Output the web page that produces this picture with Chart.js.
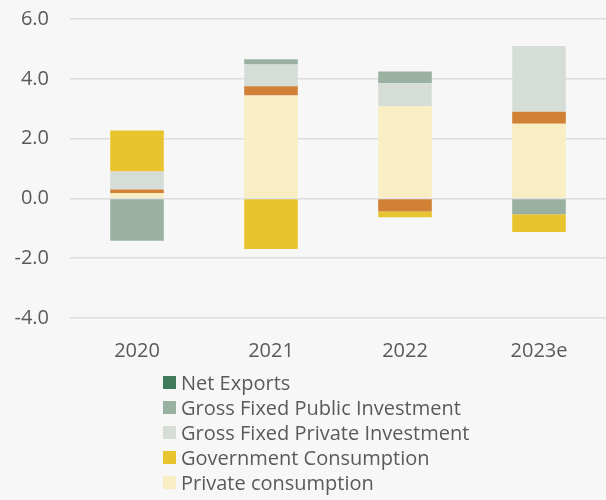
<!DOCTYPE html>
<html>
<head>
<meta charset="utf-8">
<script src="https://cdn.jsdelivr.net/npm/chart.js@4.4.1/dist/chart.umd.min.js"></script>
<style>
  html, body { margin: 0; padding: 0; background: #f7f7f7; }
  #contenedor { position: relative; width: 606px; height: 500px; overflow: hidden; }
  #grafico { position: absolute; left: 0; top: 0; }
  #leyenda { position: absolute; left: 163px; top: 370px; font-family: "Open Sans", sans-serif; font-size: 20px; color: #5a5a5a; }
  .item { height: 25px; display: flex; align-items: center; white-space: nowrap; }
  .caja { width: 13px; height: 13px; margin-right: 5px; flex: none; }
</style>
</head>
<body>
<div id="contenedor">
  <canvas id="grafico" width="606" height="370"></canvas>
  <div id="leyenda"></div>
</div>
<script>
// ===============================
// Datos
// ===============================
const anios = ['2020', '2021', '2022', '2023e'];
const ticksY = [-4, -2, 0, 2, 4, 6];

const consumoPrivado = [0.18, 3.44, 3.08, 2.50];
const inventarios = [0.12, 0.31, -0.44, 0.40];
const inversionPrivada = [0.60, 0.73, 0.77, 2.20];
const inversionPublica = [-1.42, 0.17, 0.39, -0.53];
const consumoGobierno = [1.37, -1.69, -0.19, -0.59];
const exportacionesNetas = [0, 0, 0, 0];

// orden en que aparece la leyenda
const ordenLeyenda = [
  'Net Exports',
  'Gross Fixed Public Investment',
  'Gross Fixed Private Investment',
  'Government Consumption',
  'Private consumption'
];

const colorTexto = '#5a5a5a';
const fuente = '"Open Sans", sans-serif';

// ===============================
// Gráfico de barras apiladas
// ===============================
const ctx = document.getElementById('grafico').getContext('2d');
const grafico = new Chart(ctx, {
  type: 'bar',
  data: {
    labels: anios,
    datasets: [
      { label: 'Private consumption', data: consumoPrivado, backgroundColor: '#f8edc3' },
      { label: 'Change in Inventories', data: inventarios, backgroundColor: '#d08135' },
      { label: 'Gross Fixed Private Investment', data: inversionPrivada, backgroundColor: '#d5ddd6' },
      { label: 'Gross Fixed Public Investment', data: inversionPublica, backgroundColor: '#9ab0a0' },
      { label: 'Government Consumption', data: consumoGobierno, backgroundColor: '#e8c52f' },
      { label: 'Net Exports', data: exportacionesNetas, backgroundColor: '#3f7a5d' }
    ]
  },
  options: {
    responsive: false,
    animation: false,
    devicePixelRatio: 1,
    categoryPercentage: 0.8,
    barPercentage: 0.5,
    layout: { padding: { left: 0, right: 0, top: 19, bottom: 0 } },
    plugins: {
      legend: { display: false },
      tooltip: { enabled: false }
    },
    scales: {
      x: {
        stacked: true,
        grid: { display: false },
        border: { display: false },
        afterFit: function (eje) { eje.height = 52; },
        ticks: { color: colorTexto, font: { family: fuente, size: 20 }, padding: 13 }
      },
      y: {
        stacked: true,
        min: -4,
        max: 6,
        afterBuildTicks: function (eje) {
          eje.ticks = ticksY.map(v => ({ value: v }));
        },
        // ancho fijo del eje y sin relleno extra arriba
        afterFit: function (eje) {
          eje.width = 70;
          eje.paddingTop = 0;
          eje.paddingBottom = 0;
        },
        grid: { color: '#dedede', lineWidth: 1.5, drawTicks: false },
        border: { display: false },
        ticks: {
          color: colorTexto,
          font: { family: fuente, size: 20 },
          padding: 21,
          callback: v => v.toFixed(1)
        }
      }
    }
  }
});

// ===============================
// Leyenda en HTML (una entrada por fila)
// ===============================
const leyenda = document.getElementById('leyenda');
ordenLeyenda.forEach(function (nombre) {
  const ds = grafico.data.datasets.find(d => d.label === nombre);
  const item = document.createElement('div');
  item.className = 'item';
  const caja = document.createElement('span');
  caja.className = 'caja';
  caja.style.background = ds.backgroundColor;
  const texto = document.createElement('span');
  texto.textContent = ds.label;
  item.appendChild(caja);
  item.appendChild(texto);
  leyenda.appendChild(item);
});
</script>
</body>
</html>
